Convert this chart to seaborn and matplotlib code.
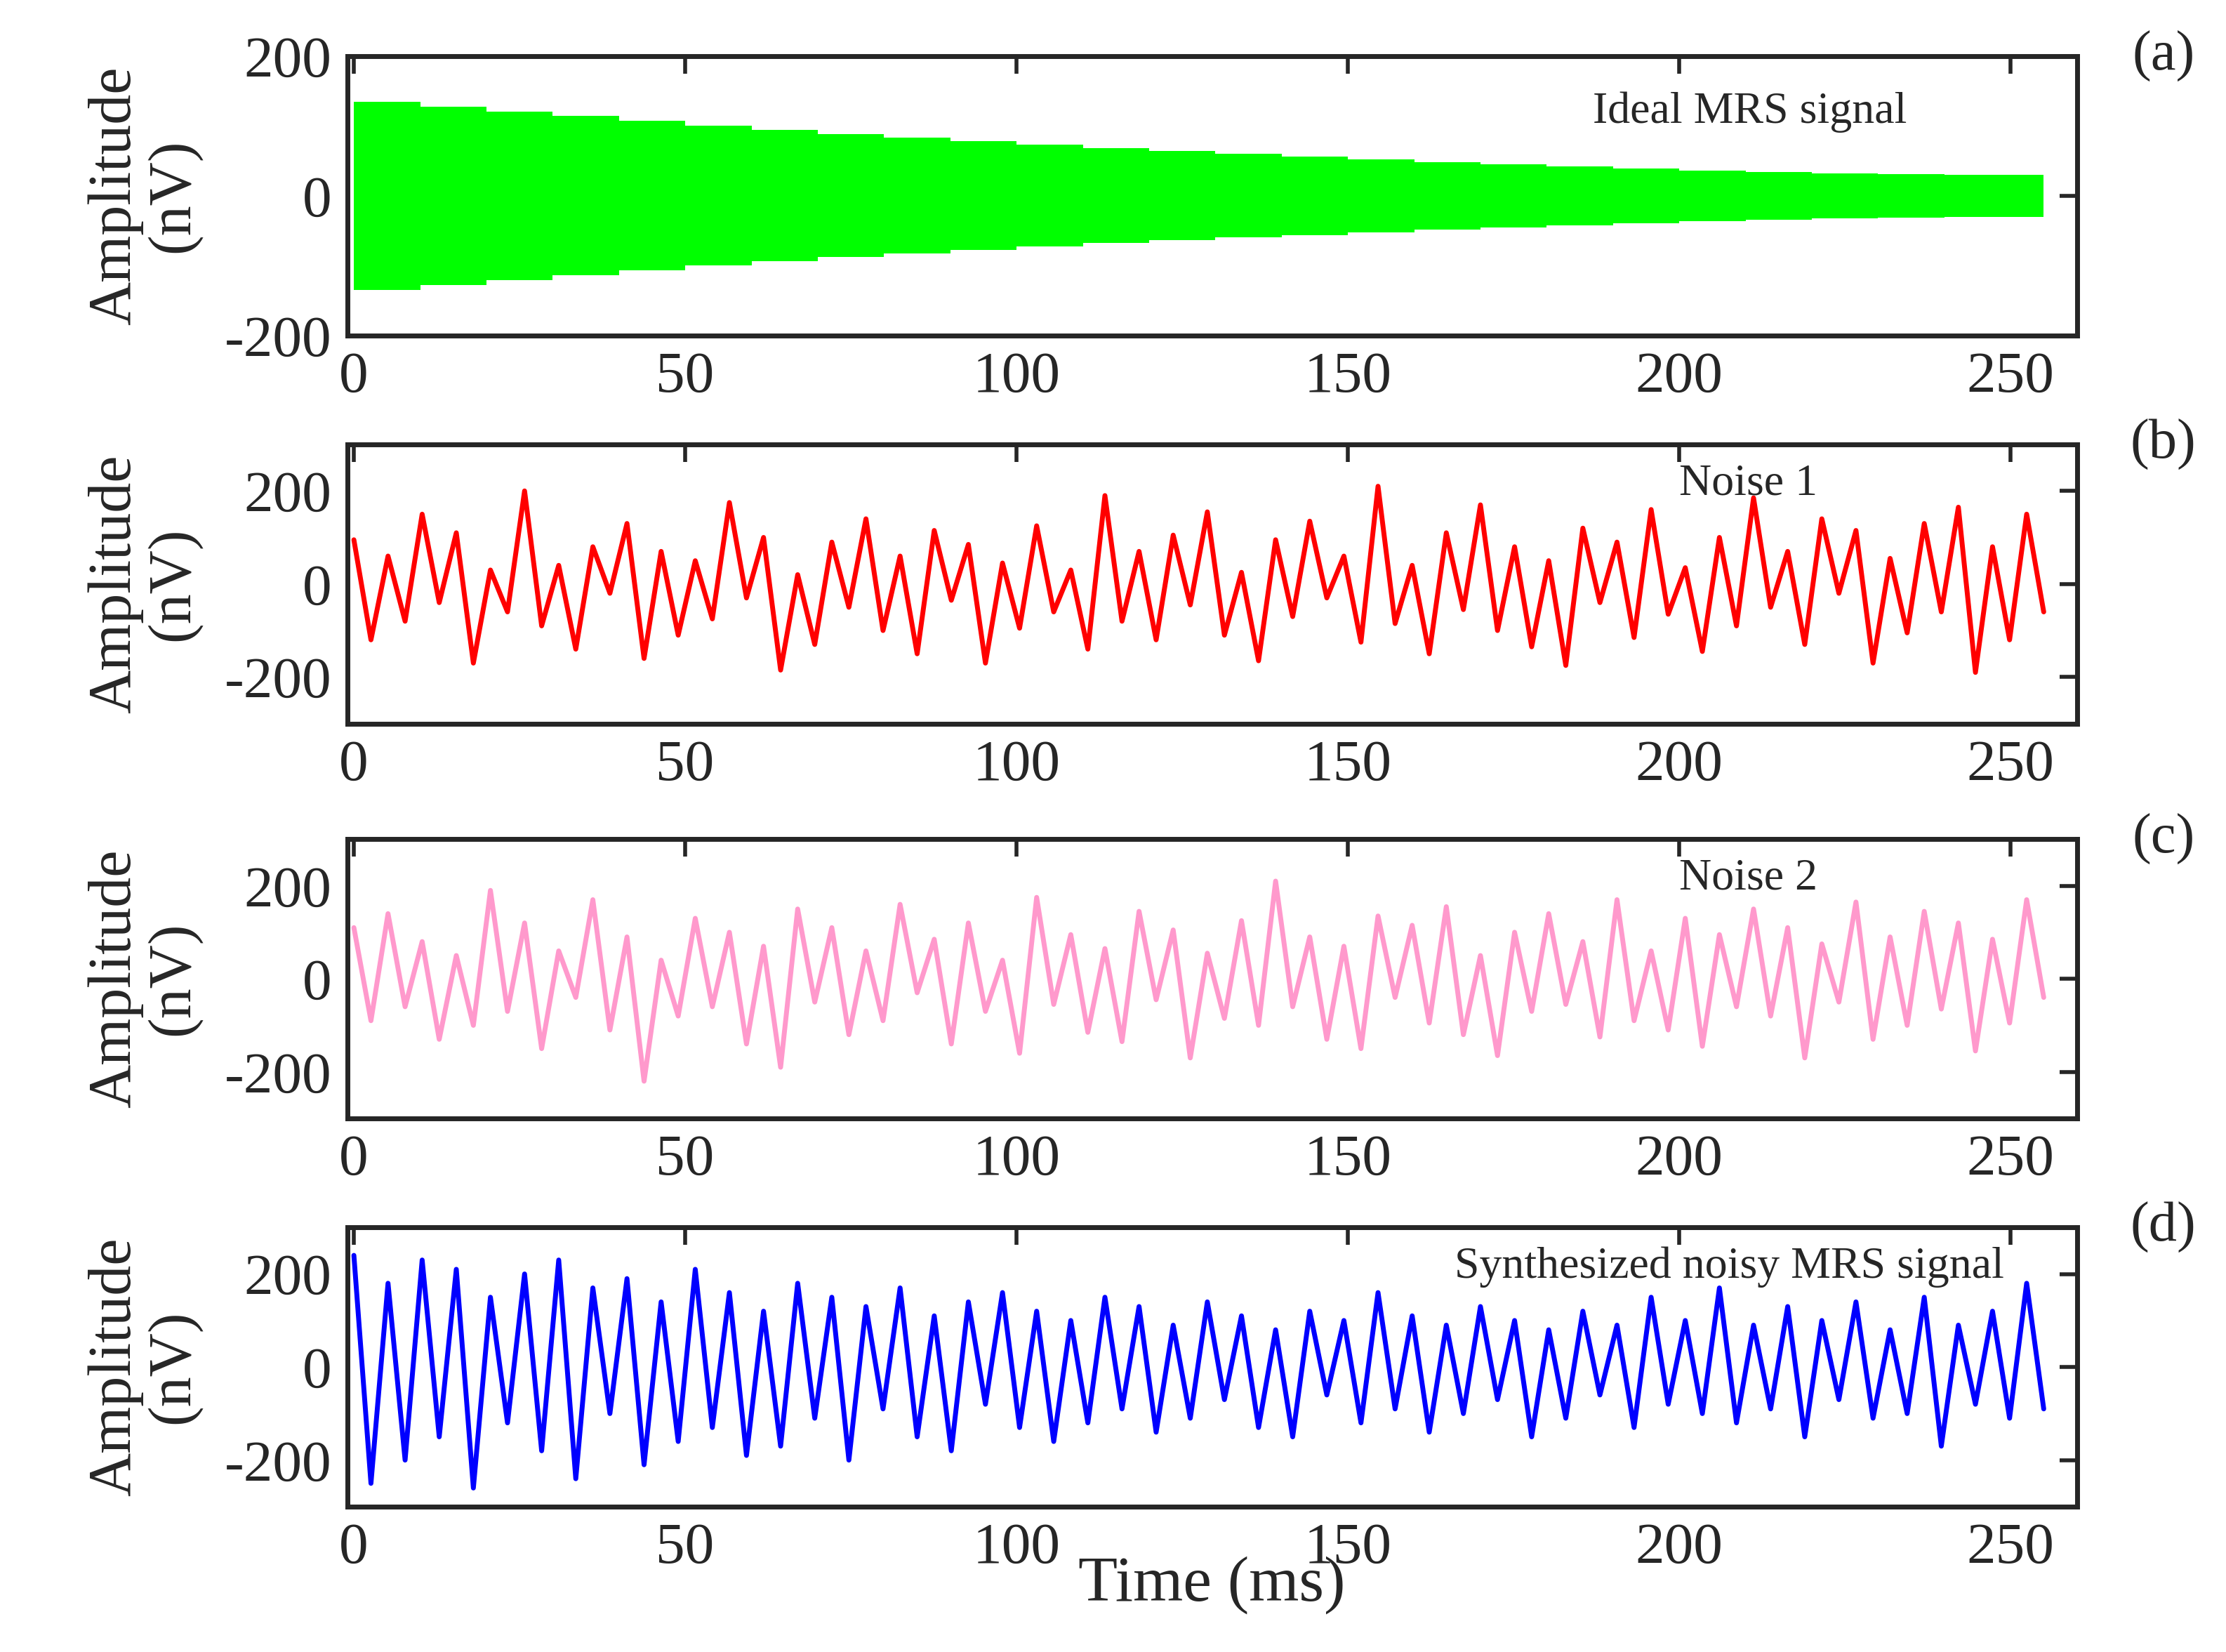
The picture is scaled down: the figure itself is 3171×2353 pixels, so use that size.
import numpy as np
import matplotlib
matplotlib.use("Agg")
import matplotlib.pyplot as plt
import seaborn as sns

sns.set_style("white")
plt.rcParams["font.family"] = "Liberation Serif"
plt.rcParams["axes.unicode_minus"] = False

# Ideal MRS envelope (nV) at times (ms)
env_t = [0, 10, 20, 30, 40, 50, 60, 70, 80, 90, 100, 110, 120, 130, 140, 150, 160, 170, 180, 190, 200, 210, 220, 230, 240, 255]
env_a = [135, 128, 121, 114, 107, 100, 94, 88, 83, 78, 73, 68, 64, 60, 56, 52, 48, 45, 42, 39, 36, 34, 32, 31, 30, 28]

noise1 = [95,-120,60,-80,150,-40,110,-170,30,-60,200,-90,40,-140,80,-20,130,-160,70,-110,
          50,-75,175,-30,100,-185,20,-130,90,-50,140,-100,60,-150,115,-35,85,-170,45,-95,
          125,-60,30,-140,190,-80,70,-120,105,-45,155,-110,25,-165,95,-70,135,-30,60,-125,
          210,-85,40,-150,110,-55,170,-100,80,-135,50,-175,120,-40,90,-115,160,-65,35,-145,
          100,-90,185,-50,70,-130,140,-20,115,-170,55,-105,130,-60,165,-190,80,-120,150,-60]
noise2 = [110,-90,140,-60,80,-130,50,-100,190,-70,120,-150,60,-40,170,-110,90,-220,40,-80,
          130,-60,100,-140,70,-190,150,-50,110,-120,60,-90,160,-30,85,-140,120,-70,40,-160,
          175,-55,95,-115,65,-135,145,-45,105,-170,55,-85,125,-100,210,-60,90,-130,70,-150,
          135,-40,115,-95,155,-120,50,-165,100,-70,140,-55,80,-125,170,-90,60,-110,130,-145,
          95,-60,150,-80,110,-170,75,-50,165,-130,90,-100,145,-65,120,-155,85,-95,170,-40]
synth = [240,-250,180,-200,230,-150,210,-260,150,-120,200,-180,230,-240,170,-100,190,-210,140,-160,
         210,-130,160,-190,120,-170,180,-110,150,-200,130,-90,170,-150,110,-180,140,-80,160,-130,
         120,-160,100,-120,150,-90,130,-140,90,-110,140,-70,110,-130,80,-150,120,-60,100,-120,
         160,-90,110,-140,90,-100,130,-70,100,-150,80,-110,120,-60,90,-130,150,-80,100,-100,
         170,-120,90,-90,130,-150,100,-70,140,-110,80,-100,150,-170,90,-80,120,-110,180,-90]

def tt(arr):
    return np.linspace(0, 255, len(arr))

fig = plt.figure(figsize=(15.855, 11.765), dpi=200)
rects = [[0.156, 0.797, 0.777, 0.169], [0.156, 0.562, 0.777, 0.169],
         [0.156, 0.323, 0.777, 0.169], [0.156, 0.088, 0.777, 0.169]]
axes = [fig.add_axes(r) for r in rects]

axes[0].fill_between(env_t, [-a for a in env_a], env_a, step="post", color="#00ff00", lw=0)
sns.lineplot(x=tt(noise1), y=noise1, ax=axes[1], color="#ff0000", lw=2.5)
sns.lineplot(x=tt(noise2), y=noise2, ax=axes[2], color="#ff99cc", lw=2.5)
sns.lineplot(x=tt(synth), y=synth, ax=axes[3], color="#0000ff", lw=2.5)

labels = ["(a)", "(b)", "(c)", "(d)"]
texts = ["Ideal MRS signal", "Noise 1", "Noise 2", "Synthesized noisy MRS signal"]
tx = [0.72, 0.77, 0.77, 0.64]
for i, ax in enumerate(axes):
    ax.set_xlim(-1, 260)
    if i == 0:
        ax.set_ylim(-200, 200)
    else:
        ax.set_ylim(-300, 300)
    ax.set_yticks([-200, 0, 200])
    ax.set_xticks([0, 50, 100, 150, 200, 250])
    ax.tick_params(direction="in", top=True, right=True, labelsize=30, length=9, width=2, pad=8)
    for s in ax.spines.values():
        s.set_linewidth(2.5)
    ax.set_ylabel("Amplitude\n(nV)", fontsize=31, linespacing=1.05, labelpad=12)
    ax.text(1.05, 1.0, labels[i], transform=ax.transAxes, fontsize=29, va="center", ha="center")
    ax.text(tx[i], 0.76 if i == 0 else 0.82, texts[i], transform=ax.transAxes, fontsize=23)
axes[3].set_xlabel("Time (ms)", fontsize=33, labelpad=-10)
fig.savefig("out.png", dpi=200)
